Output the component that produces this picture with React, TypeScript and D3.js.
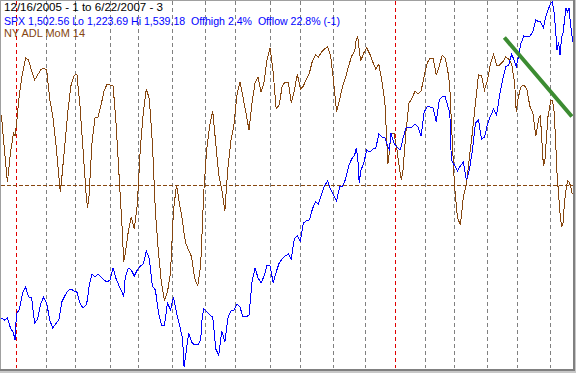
import React from "react";
import * as d3 from "d3";

const width = 576;
const height = 373;

// exchange holidays inside the range, no bar for them
const holidays = [
  "2005-12-26", "2006-01-02", "2006-01-16", "2006-02-20", "2006-04-14", "2006-05-29",
  "2006-07-04", "2006-09-04", "2006-11-23", "2006-12-25", "2007-01-01", "2007-01-02",
  "2007-01-15", "2007-02-19", "2007-04-06", "2007-05-28",
];

const dates = [
  "2005-12-16", "2005-12-20", "2005-12-22", "2005-12-27", "2005-12-29", "2005-12-30",
  "2006-01-03", "2006-01-05", "2006-01-09", "2006-01-11", "2006-01-13", "2006-01-18", "2006-01-20", "2006-01-24", "2006-01-26", "2006-01-30",
  "2006-02-01", "2006-02-03", "2006-02-07", "2006-02-09", "2006-02-13", "2006-02-14", "2006-02-15", "2006-02-17", "2006-02-22", "2006-02-24", "2006-02-28",
  "2006-03-02", "2006-03-06", "2006-03-08", "2006-03-10", "2006-03-13", "2006-03-14", "2006-03-16", "2006-03-20", "2006-03-22", "2006-03-24", "2006-03-28", "2006-03-30",
  "2006-04-03", "2006-04-05", "2006-04-07", "2006-04-11", "2006-04-13", "2006-04-17", "2006-04-18", "2006-04-20", "2006-04-24", "2006-04-26", "2006-04-28",
  "2006-05-02", "2006-05-04", "2006-05-08", "2006-05-10", "2006-05-12", "2006-05-16", "2006-05-18", "2006-05-22", "2006-05-24", "2006-05-26", "2006-05-31",
  "2006-06-02", "2006-06-06", "2006-06-08", "2006-06-12", "2006-06-13", "2006-06-14", "2006-06-16", "2006-06-20", "2006-06-22", "2006-06-26", "2006-06-28", "2006-06-29", "2006-06-30",
  "2006-07-05", "2006-07-07", "2006-07-11", "2006-07-13", "2006-07-17", "2006-07-19", "2006-07-21", "2006-07-25", "2006-07-27", "2006-07-31",
  "2006-08-02", "2006-08-04", "2006-08-08", "2006-08-10", "2006-08-14", "2006-08-16", "2006-08-18", "2006-08-22", "2006-08-24", "2006-08-28", "2006-08-30",
  "2006-09-01", "2006-09-06", "2006-09-08", "2006-09-12", "2006-09-14", "2006-09-18", "2006-09-20", "2006-09-22", "2006-09-26", "2006-09-28",
  "2006-10-02", "2006-10-04", "2006-10-06", "2006-10-10", "2006-10-12", "2006-10-16", "2006-10-18", "2006-10-20", "2006-10-24", "2006-10-26", "2006-10-30",
  "2006-11-01", "2006-11-03", "2006-11-07", "2006-11-09", "2006-11-13", "2006-11-15", "2006-11-17", "2006-11-21", "2006-11-22", "2006-11-24", "2006-11-27", "2006-11-28", "2006-11-30",
  "2006-12-04", "2006-12-06", "2006-12-08", "2006-12-12", "2006-12-14", "2006-12-18", "2006-12-20", "2006-12-22", "2006-12-26", "2006-12-27", "2006-12-29",
  "2007-01-04", "2007-01-08", "2007-01-09", "2007-01-10", "2007-01-12", "2007-01-17", "2007-01-19", "2007-01-23", "2007-01-25", "2007-01-29", "2007-01-31",
  "2007-02-02", "2007-02-06", "2007-02-08", "2007-02-12", "2007-02-14", "2007-02-16", "2007-02-21", "2007-02-23", "2007-02-26", "2007-02-27",
  "2007-03-01", "2007-03-05", "2007-03-07", "2007-03-09", "2007-03-13", "2007-03-15", "2007-03-19", "2007-03-21", "2007-03-23", "2007-03-27", "2007-03-29",
  "2007-04-02", "2007-04-04", "2007-04-09", "2007-04-11", "2007-04-13", "2007-04-17", "2007-04-19", "2007-04-23", "2007-04-25", "2007-04-27", "2007-04-30",
  "2007-05-01", "2007-05-03", "2007-05-07", "2007-05-09", "2007-05-11", "2007-05-15", "2007-05-17", "2007-05-21", "2007-05-22", "2007-05-23", "2007-05-24", "2007-05-25", "2007-05-30",
  "2007-06-01", "2007-06-04", "2007-06-05", "2007-06-06", "2007-06-07", "2007-06-08", "2007-06-11", "2007-06-12", "2007-06-13", "2007-06-14", "2007-06-15", "2007-06-18", "2007-06-19", "2007-06-20", "2007-06-21", "2007-06-22",
];

const spx = [
  1266.05, 1264.32, 1266.05, 1257.4, 1253.08, 1247.03,
  1269.5, 1273.83, 1287.66, 1292.84, 1284.2, 1283.33, 1261.72, 1265.18, 1278.15, 1284.2,
  1279.01, 1264.32, 1257.4, 1260.86, 1264.32, 1271.23, 1279.88, 1285.06, 1289.38, 1291.11, 1289.38,
  1288.52, 1279.01, 1274.69, 1277.28, 1281.6, 1292.84, 1304.08, 1301.49, 1304.08, 1301.49, 1298.89, 1297.16,
  1298.89, 1309.27, 1299.76, 1293.71, 1288.52, 1284.2, 1300.62, 1309.27, 1307.54, 1302.35, 1307.54,
  1310.99, 1312.72, 1323.96, 1317.05, 1293.71, 1290.25, 1271.23, 1259.99, 1259.99, 1279.01, 1272.96,
  1284.2, 1270.37, 1259.99, 1247.89, 1223.69, 1233.2, 1253.08, 1245.3, 1242.71, 1242.71, 1247.03, 1266.91, 1273.83,
  1271.23, 1268.64, 1266.91, 1239.25, 1234.06, 1254.81, 1245.3, 1266.05, 1272.1, 1272.96,
  1278.15, 1275.55, 1266.91, 1266.91, 1268.64, 1297.16, 1309.27, 1300.62, 1296.3, 1302.35, 1311.86,
  1310.99, 1296.3, 1305.81, 1313.59, 1317.05, 1319.64, 1321.37, 1317.05, 1334.33, 1336.93,
  1332.6, 1348.16, 1349.89, 1350.76, 1360.27, 1366.32, 1364.59, 1372.37, 1380.15, 1384.47, 1377.55,
  1372.37, 1367.18, 1379.28, 1380.15, 1386.2, 1397.43, 1403.49, 1406.94, 1412.99, 1405.21, 1382.74, 1393.11, 1400.03,
  1411.26, 1409.54, 1412.13, 1412.99, 1425.1, 1422.5, 1421.64, 1413.86, 1411.26, 1425.96, 1417.32,
  1413.86, 1411.26, 1414.72, 1421.64, 1430.28, 1430.28, 1431.15, 1433.74, 1431.15, 1423.37, 1444.11,
  1448.43, 1448.43, 1447.57, 1435.47, 1454.48, 1457.08, 1457.08, 1447.57, 1444.11, 1402.62,
  1398.3, 1393.11, 1397.43, 1400.89, 1385.33, 1393.98, 1411.26, 1434.6, 1437.2, 1420.77, 1422.5,
  1433.74, 1440.65, 1446.71, 1441.52, 1458.81, 1471.77, 1483.01, 1484.74, 1494.25, 1487.33, 1483.01,
  1489.06, 1502.89, 1509.81, 1508.94, 1509.81, 1513.26, 1523.64, 1521.91, 1521.91, 1519.31, 1516.72, 1523.64, 1532.28,
  1538.33, 1539.18, 1530.55, 1516.72, 1497.7, 1504.62, 1493.38, 1508.08, 1512.4, 1523.64, 1534.01, 1530.55, 1534.01, 1519.31, 1508.94, 1502.56,
];

const adl = [
  1390, 690, 50, 630, 1030, 970,
  1210, 1830, 2230, 2530, 2490, 2270, 2090, 2190, 2290, 2330,
  2290, 1710, 1370, 850, 190, -150, 130, 790, 1450, 1970, 2170,
  2210, 1590, 730, -150, -470, -250, 830, 1330, 1350, 1590, 1870, 2010,
  1990, 1970, 1190, 150, -890, -1550, -1390, -950, -650, -890, -410,
  710, 1450, 1910, 1710, 830, -550, -1350, -1970, -2310, -2150, -1770,
  -510, -10, -390, -730, -970, -1170, -1310, -1450, -1870, -2030, -1610, -910, -170,
  710, 1190, 1470, 810, 190, -110, -530, 330, 870, 1190,
  1790, 2050, 1750, 1430, 1090, 1630, 2030, 2150, 1850, 2050, 2510,
  2730, 2250, 1510, 1590, 1970, 2050, 2050, 1630, 1870, 2210,
  1910, 1970, 2110, 2230, 2470, 2590, 2550, 2650, 2710, 2750, 2590,
  2070, 1450, 1690, 1970, 2150, 2370, 2570, 2670, 2890, 2970, 2690, 2470, 2630,
  2730, 2610, 2450, 2310, 2410, 2070, 1650, 410, 650, 1030, 1030,
  690, 250, 90, 290, 1070, 1630, 1730, 1870, 1810, 1870, 2170,
  2430, 2530, 2530, 2190, 2370, 2590, 2530, 2210, 1950, 1290,
  30, -650, -810, -250, 10, 550, 1050, 1630, 2190, 2170, 1890,
  2090, 2430, 2610, 2390, 2390, 2450, 2550, 2510, 2410, 2010, 1450,
  1690, 1950, 1990, 1910, 1570, 1430, 970, 1330, 1370, 870, 370, 490, 1350,
  1690, 1670, 1490, 930, 230, -170, -570, -850, -770, -350, -110, 70, 50, -30, -170, -210,
];

// hand drawn trend line (SPX units)
const trendDates = ["2007-04-19", "2007-06-20"];
const trendValues = [1507.2, 1441.5];

const spxLo = 1223.69;
const spxHi = 1539.18;
const adlDomain = [-3650, 3650];

const title = "12/16/2005 - 1 to 6/22/2007 - 3";
const spxLabel = "SPX 1,502.56 Lo 1,223.69 Hi 1,539.18  Offhigh 2.4%  Offlow 22.8% (-1)";
const adlLabel = "NY ADL MoM 14";

const brown = "#86460f";
const font = "'Liberation Sans', Arial, sans-serif";

const parse = d3.timeParse("%Y-%m-%d");
const fmt = d3.timeFormat("%Y-%m-%d");

export default function App() {
  const days = d3
    .timeDay.range(parse("2005-12-16"), d3.timeDay.offset(parse("2007-06-22"), 1))
    .filter((d) => d.getDay() !== 0 && d.getDay() !== 6 && !holidays.includes(fmt(d)));
  const dayIndex = new Map(days.map((d, i) => [fmt(d), i]));

  const x = d3.scaleLinear().domain([0, days.length - 1]).range([1.4, 573.6]);
  const ySpx = d3.scaleLinear().domain([spxLo, spxHi]).range([367, 2]);
  const yAdl = d3.scaleLinear().domain(adlDomain).range([367, 2]);

  // first trading day of every month
  const monthStarts = days
    .map((d, i) => ({ d, i }))
    .filter(({ d, i }) => i > 0 && d.getMonth() !== days[i - 1].getMonth());

  const pos = (s) => x(dayIndex.get(s));

  const spxPath = d3
    .line()
    .x((_, i) => pos(dates[i]))
    .y((v) => ySpx(v))(spx);
  const adlPath = d3
    .line()
    .x((_, i) => pos(dates[i]))
    .y((v) => yAdl(v))(adl);
  const trendPath = d3
    .line()
    .x((_, i) => pos(trendDates[i]))
    .y((v) => ySpx(v))(trendValues);

  const zeroY = Math.round(yAdl(0)) + 0.5;

  return (
    <svg
      width={width}
      height={height}
      style={{ position: "absolute", left: 0, top: 0, display: "block" }}
    >
      <rect width={width} height={height} fill="#fff" />

      {monthStarts.map(({ d, i }) => {
        const gx = Math.floor(x(i)) + 0.5;
        return (
          <line
            key={i}
            x1={gx}
            x2={gx}
            y1={1}
            y2={368}
            stroke={d.getMonth() === 0 ? "#e00000" : "#808080"}
            strokeDasharray="4 3"
            shapeRendering="crispEdges"
          />
        );
      })}

      <line
        x1={1}
        x2={573}
        y1={zeroY}
        y2={zeroY}
        stroke={brown}
        strokeDasharray="4 2"
        shapeRendering="crispEdges"
      />

      <path d={adlPath} fill="none" stroke={brown} strokeWidth={1} shapeRendering="crispEdges" />
      <path d={spxPath} fill="none" stroke="#0000ff" strokeWidth={1} shapeRendering="crispEdges" />
      <path d={trendPath} fill="none" stroke="#3c8c32" strokeWidth={4} strokeLinecap="square" />

      {/* frame */}
      <line x1={0.5} x2={0.5} y1={0} y2={369} stroke="#a0a0a0" shapeRendering="crispEdges" />
      <line x1={0} x2={573} y1={0.5} y2={0.5} stroke="#a0a0a0" shapeRendering="crispEdges" />
      <rect x={573} y={0} width={2} height={371} fill="#808080" />
      <rect x={575} y={0} width={1} height={373} fill="#c8c8c8" />
      <rect x={0} y={369} width={575} height={2} fill="#808080" />
      <rect x={0} y={371} width={576} height={2} fill="#c8c8c8" />

      <g fontFamily={font} fontSize={11}>
        <text x={4} y={11} fill="#000" textLength={159} lengthAdjust="spacingAndGlyphs" xmlSpace="preserve">
          {title}
        </text>
        <text x={4} y={25} fill="#0000ff" textLength={336} lengthAdjust="spacingAndGlyphs" xmlSpace="preserve">
          {spxLabel}
        </text>
        <text x={4} y={37} fill={brown} textLength={81} lengthAdjust="spacingAndGlyphs" xmlSpace="preserve">
          {adlLabel}
        </text>
      </g>
    </svg>
  );
}
